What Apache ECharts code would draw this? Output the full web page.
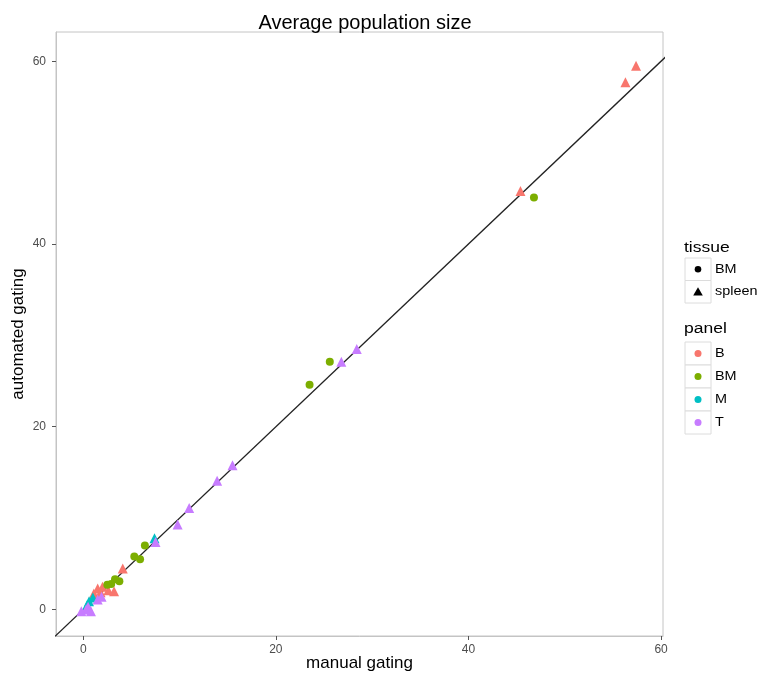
<!DOCTYPE html>
<html>
<head>
<meta charset="utf-8">
<script src="https://cdn.jsdelivr.net/npm/echarts@6/dist/echarts.min.js"></script>
<style>
  html, body { margin: 0; padding: 0; background: #fff; }
  #chart { width: 760px; height: 675px; }
</style>
</head>
<body>
<div id="chart"></div>
<script>
// Average population size: manual vs automated gating, per panel and tissue
const chartTitle = 'Average population size';
const xName = 'manual gating';
const yName = 'automated gating';
const tickValues = [0, 20, 40, 60];

const panels = ['B', 'BM', 'M', 'T'];
const panelColors = ['#F8766D', '#7CAE00', '#00BFC4', '#C77CFF'];
const tissues = ['BM', 'spleen'];
const tissueSymbols = ['circle', 'triangle'];

// [manual, automated]
const bSpleen = [[57.4, 59.5], [56.3, 57.7], [45.4, 45.8], [4.1, 4.5], [3.2, 2.0], [2.0, 2.5],
                 [1.5, 2.3], [1.1, 1.75], [2.6, 2.1], [1.8, 1.9]];
const bmBM = [[46.8, 45.1], [25.6, 27.1], [23.5, 24.6], [6.4, 7.0], [5.3, 5.8], [5.9, 5.5],
              [3.75, 3.1], [2.9, 2.8], [2.5, 2.7], [3.3, 3.3]];
const mSpleen = [[7.4, 7.8], [0.6, 0.9], [0.4, 0.5], [1.0, 1.3]];
const tSpleen = [[28.4, 28.5], [26.8, 27.1], [15.5, 15.8], [13.9, 14.1], [11.0, 11.1], [9.8, 9.3],
                 [7.5, 7.4], [1.5, 1.1], [0.3, 0.0], [-0.2, -0.2], [0.8, -0.2], [1.9, 1.4], [0.5, 0.3]];

// identity reference line y = x
const identity = [[-10, -10], [70, 70]];

const xRange = [-2.83, 60.2];
const yRange = [-2.9, 63.2];

const font = '"Liberation Sans", Arial, Helvetica, sans-serif';

const pointSeries = [
  { name: 'B spleen', data: bSpleen, panel: 0, tissue: 1 },
  { name: 'BM BM', data: bmBM, panel: 1, tissue: 0 },
  { name: 'M spleen', data: mSpleen, panel: 2, tissue: 1 },
  { name: 'T spleen', data: tSpleen, panel: 3, tissue: 1 }
].map(s => ({
  name: s.name,
  type: 'scatter',
  data: s.data,
  symbol: tissueSymbols[s.tissue],
  symbolSize: s.tissue === 0 ? 8 : 10,
  itemStyle: { color: panelColors[s.panel], opacity: 1 },
  z: 3
}));

// legend drawn as boxed keys to the right of the panel
const legendX = 685, keyW = 26;
const legendGraphics = [];
function addGroup(title, titleMid, firstY, keyH, labels, keyFn) {
  legendGraphics.push({ type: 'text', x: legendX - 1, y: titleMid, scaleX: 1.25,
    style: { text: title, font: '14px ' + font, fill: '#000', verticalAlign: 'middle' } });
  labels.forEach((lab, i) => {
    const y = firstY + i * keyH;
    legendGraphics.push({ type: 'rect', shape: { x: legendX, y: y, width: keyW, height: keyH },
      style: { fill: '#fff', stroke: '#dcdcdc', lineWidth: 1 } });
    legendGraphics.push(keyFn(i, legendX + keyW / 2, y + keyH / 2));
    legendGraphics.push({ type: 'text', x: legendX + keyW + 4, y: y + keyH / 2, scaleX: 1.2,
      style: { text: lab, font: '12px ' + font, fill: '#000', verticalAlign: 'middle' } });
  });
}
addGroup('tissue', 248, 258, 22.5, tissues, (i, cx, cy) => (i === 0
  ? { type: 'circle', shape: { cx: cx, cy: cy, r: 3.3 }, style: { fill: '#000' } }
  : { type: 'polygon', shape: { points: [[cx, cy - 4.5], [cx + 4.8, cy + 3.8], [cx - 4.8, cy + 3.8]] }, style: { fill: '#000' } }));
addGroup('panel', 329, 342, 23, panels, (i, cx, cy) =>
  ({ type: 'circle', shape: { cx: cx, cy: cy, r: 3.5 }, style: { fill: panelColors[i] } }));

const axisCommon = {
  type: 'value',
  splitLine: { show: false },
  axisLine: { show: true, onZero: false, lineStyle: { color: '#c4c4c4', width: 1 } },
  axisTick: { show: true, inside: false, length: 4, lineStyle: { color: '#555', width: 1 }, customValues: tickValues },
  axisLabel: { color: '#4d4d4d', fontSize: 12, fontFamily: font, customValues: tickValues },
  nameLocation: 'middle',
  nameMoveOverlap: false,
  nameTextStyle: { color: '#000', fontSize: 17, fontFamily: font }
};

const chart = echarts.init(document.getElementById('chart'));
chart.setOption({
  animation: false,
  backgroundColor: '#fff',
  title: {
    text: chartTitle, left: 360, top: 8, textAlign: 'center',
    textStyle: { fontSize: 20, fontWeight: 'normal', color: '#000', fontFamily: font }
  },
  grid: {
    left: 56, top: 32, right: 97, bottom: 39, containLabel: false, outerBoundsMode: 'none',
    show: true, borderColor: '#c4c4c4', borderWidth: 1, backgroundColor: '#fff'
  },
  xAxis: Object.assign({}, axisCommon, {
    min: xRange[0], max: xRange[1], name: xName, nameGap: 19,
    axisLabel: Object.assign({}, axisCommon.axisLabel, { margin: 8 })
  }),
  yAxis: Object.assign({}, axisCommon, {
    min: yRange[0], max: yRange[1], name: yName, nameGap: 29,
    axisLabel: Object.assign({}, axisCommon.axisLabel, { margin: 10 })
  }),
  series: [
    {
      type: 'line', data: identity, symbol: 'none', clip: true, silent: true,
      lineStyle: { color: '#222', width: 1.3 }, z: 2
    }
  ].concat(pointSeries),
  graphic: legendGraphics
});
</script>
</body>
</html>
